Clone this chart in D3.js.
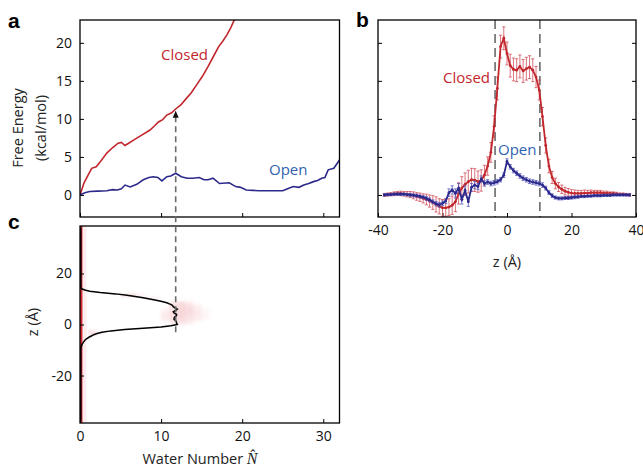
<!DOCTYPE html>
<html><head><meta charset="utf-8">
<script src="https://cdn.jsdelivr.net/npm/d3@7"></script>
<style>
body{margin:0;background:#fff;}
svg{display:block;font-family:"Open Sans","Liberation Sans",Arial,sans-serif;}
</style></head><body>
<svg id="c" width="643" height="469"></svg>
<script>
// ---------- DATA ----------
// Panel a: free energy vs water number
const closedN = [0,0.5,1.0,1.44,2.0,2.6,3.3,4.0,4.7,5.1,5.55,6.0,6.6,7.5,8.6,9.2,9.67,10.2,10.7,11.3,11.8,12.4,12.96,13.7,14.4,15.1,15.8,16.5,17.1,17.6,18.1,18.6,19.1];
const closedF = [0,1.6,2.6,3.5,3.7,4.5,5.5,6.2,6.8,6.9,6.5,6.8,7.2,7.8,8.5,9.1,9.6,9.9,10.5,10.8,11.3,11.8,12.5,13.4,14.5,15.6,16.9,18.3,19.5,20.2,21.0,22.0,23.2];
const openN = [0,0.6,1.2,2.2,3.3,4.0,4.6,5.1,5.55,6.2,7.0,7.8,8.5,9.05,9.6,10.1,10.7,11.2,11.8,12.5,13.2,13.9,14.7,15.3,15.8,16.4,17.2,18.4,19.2,19.8,20.5,21.3,22.1,23.5,25.0,25.6,26.3,27.0,27.6,28.2,28.8,29.3,29.8,30.2,30.6,31.3,32.0];
const openF = [0,0.3,0.45,0.5,0.55,0.7,0.65,0.8,1.3,1.05,1.4,2.0,2.3,2.4,2.3,1.85,2.4,2.5,2.85,2.4,2.2,2.2,2.3,2.0,2.0,2.2,1.5,1.6,1.1,1.0,0.65,0.6,0.55,0.55,0.55,0.8,1.1,1.0,1.3,1.5,1.75,1.9,2.2,2.3,3.3,3.5,4.6];
const fTicks = [0,5,10,15,20];
const nTicks = [0,10,20,30];
const markN = 11.8; // water number marked by the dashed arrow

// Panel b: water density profiles along z
const zVals = d3.range(-38, 39, 1);
const closedD = [0,0.05,0.1,0.15,0.2,0.2,0.15,0.1,0.05,-0.05,-0.2,-0.3,-0.45,-0.6,-0.8,-1.0,-1.25,-1.5,-1.7,-1.7,-1.6,-1.35,-0.9,0.2,0.9,1.4,1.75,2.0,1.95,1.75,1.9,2.6,3.8,5.6,9.0,14.0,19.5,20.6,18.6,17.0,16.5,16.4,16.9,16.3,16.6,16.8,16.4,15.5,13.8,10.3,6.5,3.8,2.3,1.5,1.05,0.75,0.5,0.35,0.25,0.2,0.2,0.2,0.25,0.25,0.3,0.3,0.3,0.3,0.25,0.25,0.2,0.2,0.15,0.1,0.1,0.05,0];
const closedErr = [0.2,0.2,0.2,0.25,0.25,0.3,0.3,0.35,0.4,0.45,0.5,0.55,0.6,0.7,0.8,0.9,1.0,1.0,1.1,1.1,1.1,1.2,1.3,1.4,1.5,1.5,1.5,1.5,1.5,1.4,1.4,1.3,1.2,1.3,1.4,1.5,1.5,1.5,1.5,1.5,1.5,1.5,1.5,1.5,1.5,1.5,1.5,1.4,1.3,1.2,1.0,0.9,0.8,0.7,0.6,0.55,0.5,0.5,0.45,0.45,0.4,0.4,0.4,0.35,0.35,0.3,0.3,0.3,0.25,0.25,0.2,0.2,0.2,0.15,0.15,0.15,0.15];
const openD = [0,0.05,0.05,0.1,0.1,0.1,0.1,0.05,0,-0.05,-0.1,-0.2,-0.3,-0.45,-0.65,-0.9,-1.15,-1.3,-1.1,-0.8,0.3,0.65,0.2,0.9,-0.6,0.6,-0.9,1.0,1.3,1.1,2.1,1.5,1.7,1.5,1.6,1.75,2.0,2.6,4.4,3.7,3.2,2.85,2.5,2.2,2.0,1.8,1.7,1.6,1.5,1.3,0.9,0.3,-0.1,-0.35,-0.45,-0.45,-0.4,-0.4,-0.35,-0.3,-0.25,-0.2,-0.2,-0.15,-0.15,-0.1,-0.1,-0.1,-0.05,-0.05,-0.05,0,0,0,0,0,0];
const openErr = [0.15,0.15,0.15,0.15,0.15,0.15,0.15,0.15,0.2,0.2,0.2,0.2,0.2,0.25,0.25,0.25,0.3,0.3,0.3,0.35,0.5,0.55,0.6,0.6,0.6,0.6,0.6,0.5,0.5,0.4,0.4,0.35,0.3,0.3,0.3,0.3,0.3,0.3,0.35,0.3,0.3,0.3,0.3,0.3,0.3,0.3,0.3,0.3,0.3,0.3,0.25,0.25,0.25,0.2,0.2,0.2,0.2,0.2,0.2,0.2,0.2,0.15,0.15,0.15,0.15,0.15,0.15,0.15,0.15,0.15,0.15,0.15,0.15,0.15,0.15,0.15,0.15];
const zTicks = [-40,-20,0,20,40];
const poreBounds = [-3.7, 10.2];

// Panel c: water number profile along z and its distribution
const profZ = [38,14.5,14,13.5,13,12.5,12,11.5,11,10.5,10,9.5,9,8.5,8,7.5,7,6.5,6,5.5,5,4.5,4,3.5,3,2.5,2,1.5,1,0.5,0,-0.5,-1,-1.5,-2,-2.5,-3,-3.5,-4,-4.5,-5,-5.5,-6,-7,-8,-9,-10,-38];
const profN = [0.1,0.1,0.2,0.6,1.2,2.5,4.4,5.8,6.8,7.8,8.6,9.4,10.1,10.7,11.1,11.4,11.5,11.7,12.0,11.8,11.5,11.6,11.9,11.9,11.7,11.6,11.6,11.8,11.9,11.9,12.0,11.2,10.0,7.8,5.5,3.8,2.7,2.1,1.7,1.4,1.1,0.85,0.65,0.4,0.22,0.12,0.1,0.1];
const heatZ = [8,8,8,7,7,7,7,6,6,6,6,5,5,5,5,5,5,4,4,4,4,4,4,3,3,3,3,3,3,2,2,2,2,2,2,1,1,1,1,1,0,0,0,11,11,11,10,10,-4,-4,-3];
const heatN = [11,12,13,11,12,13,14,11,12,13,14,10,11,12,13,14,15,10,11,12,13,14,15,10,11,12,13,14,15,10,11,12,13,14,15,10,11,12,13,14,11,12,13,5,6,7,8,9,1,2,1];
const heatW = [0.22,0.28,0.14,0.25,0.3,0.2,0.1,0.2,0.3,0.28,0.14,0.12,0.22,0.33,0.28,0.14,0.07,0.12,0.25,0.3,0.28,0.18,0.08,0.16,0.26,0.3,0.24,0.14,0.07,0.15,0.26,0.28,0.22,0.16,0.08,0.08,0.2,0.26,0.18,0.08,0.12,0.2,0.12,0.28,0.28,0.12,0.12,0.12,0.3,0.12,0.15];
const zcTicks = [-20,0,20];

// ---------- DRAW ----------
const svg = d3.select("#c");
const RED = "#c1272d", NAVY = "#2b2a8c", BLUE = "#2f62b0";
const FS = 14;
const FONT = "'Open Sans','Liberation Sans',Arial,sans-serif";
const fmt = d => String(d);

const xA = d3.scaleLinear().domain([0,32]).range([80,339.5]);
const yA = d3.scaleLinear().domain([-2.9,23]).range([217,20]);
const xB = d3.scaleLinear().domain([-40,40]).range([378,636]);
const yB = d3.scaleLinear().domain([-2.9,23]).range([217,20]);
const xC = d3.scaleLinear().domain([0,32]).range([80,339.5]);
const yC = d3.scaleLinear().domain([-38.6,38.6]).range([423,226]);

function box(x0,y0,x1,y1){
  svg.append("rect").attr("x",x0).attr("y",y0).attr("width",x1-x0).attr("height",y1-y0)
    .attr("fill","none").attr("stroke","#000").attr("stroke-width",1.3);
}
function styleAxis(g,labels){
  g.select(".domain").remove();
  g.selectAll(".tick line").attr("stroke","#000").attr("stroke-width",1);
  g.selectAll(".tick text").attr("font-size",FS).attr("fill","#111").attr("font-family",FONT);
  if(!labels) g.selectAll(".tick text").remove();
}

const defs = svg.append("defs");
[["ca",xA,yA],["cb",xB,yB],["cc",xC,yC]].forEach(([id,xs,ys])=>{
  defs.append("clipPath").attr("id",id).append("rect")
    .attr("x",xs.range()[0]).attr("y",ys.range()[1])
    .attr("width",xs.range()[1]-xs.range()[0]).attr("height",ys.range()[0]-ys.range()[1]);
});
defs.append("filter").attr("id","blur").attr("x","-20%").attr("y","-20%").attr("width","140%").attr("height","140%")
  .append("feGaussianBlur").attr("stdDeviation",1.6);

// ===== Panel a =====
const gA = svg.append("g");
const ax1 = gA.append("g").attr("transform","translate(80,0)")
  .call(d3.axisLeft(yA).tickValues(fTicks).tickSizeInner(-4).tickSizeOuter(0).tickPadding(8).tickFormat(fmt));
styleAxis(ax1,true);
const ax2 = gA.append("g").attr("transform","translate(0,217)")
  .call(d3.axisBottom(xA).tickValues(nTicks).tickSizeInner(-4).tickSizeOuter(0));
styleAxis(ax2,false);
const lineA = d3.line().x(d=>xA(d[0])).y(d=>yA(d[1]));
const pa = gA.append("g").attr("clip-path","url(#ca)");
pa.append("path").datum(d3.zip(closedN,closedF)).attr("d",lineA).attr("fill","none").attr("stroke",RED).attr("stroke-width",1.6);
pa.append("path").datum(d3.zip(openN,openF)).attr("d",lineA).attr("fill","none").attr("stroke",NAVY).attr("stroke-width",1.6);
box(80,20,339.5,217);
gA.append("text").attr("x",161).attr("y",60).attr("fill",RED).attr("font-size",15).text("Closed");
gA.append("text").attr("x",269).attr("y",175).attr("fill",BLUE).attr("font-size",15).text("Open");
gA.append("text").attr("transform","translate(23,128) rotate(-90)").attr("text-anchor","middle").attr("font-size",14.5).attr("fill","#222").text("Free Energy");
gA.append("text").attr("transform","translate(46,128) rotate(-90)").attr("text-anchor","middle").attr("font-size",14.5).attr("fill","#222").text("(kcal/mol)");

// ===== Panel b =====
const gB = svg.append("g");
const bx1 = gB.append("g").attr("transform","translate(378,0)")
  .call(d3.axisLeft(yB).tickValues(fTicks).tickSizeInner(-4).tickSizeOuter(0));
styleAxis(bx1,false);
const bx2 = gB.append("g").attr("transform","translate(636,0)")
  .call(d3.axisRight(yB).tickValues(fTicks).tickSizeInner(-4).tickSizeOuter(0));
styleAxis(bx2,false);
const bx3 = gB.append("g").attr("transform","translate(0,217)")
  .call(d3.axisBottom(xB).tickValues(zTicks).tickSizeInner(-4).tickSizeOuter(0).tickPadding(8).tickFormat(fmt));
styleAxis(bx3,true);
const pb = gB.append("g").attr("clip-path","url(#cb)");
pb.selectAll("line.pore").data(poreBounds).join("line").attr("class","pore")
  .attr("x1",d=>xB(d)).attr("x2",d=>xB(d)).attr("y1",20).attr("y2",217)
  .attr("stroke","#555").attr("stroke-width",1.4).attr("stroke-dasharray","9,5");
function errSeries(vals,errs,lineCol,errCol){
  const data = zVals.map((z,i)=>({z,v:vals[i],e:errs[i]}));
  const g = pb.append("g");
  g.selectAll("line.eb").data(data).join("line")
    .attr("x1",d=>xB(d.z)).attr("x2",d=>xB(d.z)).attr("y1",d=>yB(d.v-d.e)).attr("y2",d=>yB(d.v+d.e))
    .attr("stroke",errCol).attr("stroke-width",1);
  ["lo","hi"].forEach(k=>{
    g.selectAll("line.cap"+k).data(data).join("line")
      .attr("x1",d=>xB(d.z)-1.6).attr("x2",d=>xB(d.z)+1.6)
      .attr("y1",d=>yB(k==="lo"?d.v-d.e:d.v+d.e)).attr("y2",d=>yB(k==="lo"?d.v-d.e:d.v+d.e))
      .attr("stroke",errCol).attr("stroke-width",1);
  });
  g.append("path").datum(data).attr("d",d3.line().x(d=>xB(d.z)).y(d=>yB(d.v)))
    .attr("fill","none").attr("stroke",lineCol).attr("stroke-width",1.8);
  g.selectAll("circle").data(data).join("circle").attr("cx",d=>xB(d.z)).attr("cy",d=>yB(d.v))
    .attr("r",1.4).attr("fill",lineCol);
}
errSeries(closedD,closedErr,RED,"rgba(205,70,80,0.75)");
errSeries(openD,openErr,NAVY,"rgba(90,90,190,0.8)");
box(378,20,636,217);
gB.append("text").attr("x",443).attr("y",83).attr("fill",RED).attr("font-size",15).text("Closed");
gB.append("text").attr("x",498).attr("y",155).attr("fill",BLUE).attr("font-size",15).text("Open");
gB.append("text").attr("x",507).attr("y",267).attr("text-anchor","middle").attr("font-size",14.5).attr("fill","#222").text("z (Å)");

// ===== Panel c =====
const gC = svg.append("g");
const pc = gC.append("g").attr("clip-path","url(#cc)");
pc.append("rect").attr("x",xC(0)).attr("width",xC(0.8)-xC(0)).attr("y",yC(38.6)).attr("height",yC(-38.6)-yC(38.6))
  .attr("fill","rgba(225,80,90,0.10)");
pc.append("g").attr("filter","url(#blur)")
  .selectAll("rect.cell").data(d3.range(heatZ.length)).join("rect").attr("class","cell")
  .attr("x",i=>xC(heatN[i])).attr("width",xC(1)-xC(0))
  .attr("y",i=>yC(heatZ[i]+1)).attr("height",yC(0)-yC(1))
  .attr("fill",i=>`rgba(225,90,100,${heatW[i]*0.8})`);
pc.append("rect").attr("x",xC(0)).attr("width",xC(0.3)-xC(0)).attr("y",yC(38.6)).attr("height",yC(-38.6)-yC(38.6))
  .attr("fill","#d42a30");
pc.append("path").datum(d3.zip(profN,profZ)).attr("d",d3.line().x(d=>xC(d[0])).y(d=>yC(d[1])))
  .attr("fill","none").attr("stroke","#000").attr("stroke-width",1.5);
const cx1 = gC.append("g").attr("transform","translate(80,0)")
  .call(d3.axisLeft(yC).tickValues(zcTicks).tickSizeInner(-4).tickSizeOuter(0).tickPadding(8).tickFormat(fmt));
styleAxis(cx1,true);
const cx2 = gC.append("g").attr("transform","translate(0,423)")
  .call(d3.axisBottom(xC).tickValues(nTicks).tickSizeInner(-4).tickSizeOuter(0).tickPadding(8).tickFormat(fmt));
styleAxis(cx2,true);
box(80,226,339.5,423);
const wl = gC.append("text").attr("x",200).attr("y",464).attr("text-anchor","middle").attr("font-size",14.5).attr("fill","#222");
wl.append("tspan").text("Water Number ");
wl.append("tspan").attr("font-family","'Liberation Serif','Times New Roman',serif").attr("font-style","italic").attr("font-size",16).text("N\u0302");
gC.append("text").attr("transform","translate(38,322) rotate(-90)").attr("text-anchor","middle").attr("font-size",14.5).attr("fill","#222").text("z (Å)");

// ===== connecting dashed arrow =====
const closedAtMark = 11.2;
svg.append("line").attr("x1",xA(markN)).attr("x2",xA(markN)).attr("y1",yC(-3)).attr("y2",yA(closedAtMark)+5)
  .attr("stroke","#6b6b6b").attr("stroke-width",1.6).attr("stroke-dasharray","6,4");
const ax = xA(markN), ay = yA(closedAtMark)+1;
svg.append("path").attr("d",`M${ax},${ay} L${ax-3},${ay+7} L${ax+3},${ay+7} Z`).attr("fill","#111");

[["a",8,28],["b",356,27],["c",8,229]].forEach(([t,x,y])=>{
  svg.append("text").attr("x",x).attr("y",y).attr("font-family","'Liberation Sans',Arial,sans-serif")
    .attr("font-size",21).attr("font-weight","bold").attr("fill","#000").text(t);
});
</script>
</body></html>
